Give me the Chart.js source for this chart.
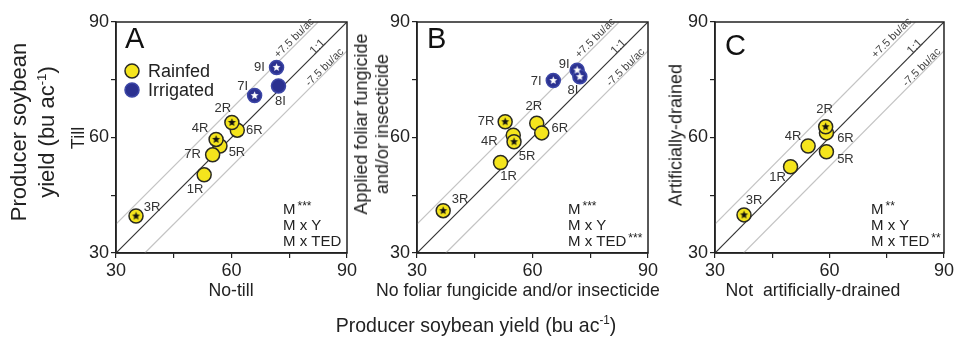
<!DOCTYPE html>
<html><head><meta charset="utf-8">
<script src="https://cdn.jsdelivr.net/npm/chart.js@4.4.1/dist/chart.umd.min.js"></script>
<style>
html,body{margin:0;padding:0;background:#fff;}
#wrap{position:relative;width:956px;height:337px;overflow:hidden;font-family:'Liberation Sans',Arial,sans-serif;color:#222;background:#fff;}
canvas{position:absolute;top:0;}
.t{position:absolute;white-space:nowrap;text-align:center;transform:translate(-50%,-50%);}
.r{transform:translate(-50%,-50%) rotate(-90deg);}
.n{transform:translate(-50%,-50%) scaleX(0.93);}
sup{font-size:60%;vertical-align:0;position:relative;top:-0.6em;}
</style></head><body>
<div id="wrap">
  <canvas id="A" width="367" height="337" style="left:0px"></canvas>
  <canvas id="B" width="298" height="337" style="left:367px"></canvas>
  <canvas id="C" width="291" height="337" style="left:665px"></canvas>
  <div class="t r" style="left:34px;top:132px;font-size:22px;line-height:28px;">Producer soybean<br>yield (bu ac<sup>-1</sup>)</div>
  <div class="t r" style="left:78px;top:138px;font-size:18px;">Till</div>
  <div class="t r" style="left:372px;top:124px;font-size:18px;line-height:21px;">Applied foliar fungicide<br>and/or insecticide</div>
  <div class="t r" style="left:676px;top:135px;font-size:18px;">Artificially-drained</div>
  <div class="t n" style="left:231px;top:290px;font-size:19px;">No-till</div>
  <div class="t n" style="left:518px;top:290px;font-size:19px;">No foliar fungicide and/or insecticide</div>
  <div class="t n" style="left:813px;top:290px;font-size:19px;">Not&nbsp; artificially-drained</div>
  <div class="t n" style="left:476px;top:325px;font-size:21px;">Producer soybean yield (bu ac<sup>-1</sup>)</div>
</div>
<script>
// ---------- data ----------
const TICK_LABELS = [30, 60, 90];
const AXIS_MIN = 30, AXIS_MAX = 90, AXIS_STEP = 15;

const LINE_1TO1  = [[30, 30], [90, 90]];
const LINE_PLUS  = [[30, 37.5], [82.5, 90]];
const LINE_MINUS = [[37.5, 30], [90, 82.5]];

// Panel A: Till vs No-till
const A_rain_labels = ['3R', '1R', '5R', '7R', '4R', '6R', '2R'];
const A_rain_x      = [35.2, 52.9, 57.0, 55.1, 56.0, 61.5, 60.1];
const A_rain_y      = [39.6, 50.3, 57.8, 55.5, 59.5, 61.9, 63.9];
const A_rain_star   = [1, 0, 0, 0, 1, 0, 1];
const A_irr_labels  = ['7I', '8I', '9I'];
const A_irr_x       = [66.0, 72.2, 71.7];
const A_irr_y       = [70.9, 73.4, 78.2];
const A_irr_star    = [1, 0, 1];
const A_effects     = [['M', '***'], ['M x Y', ''], ['M x TED', '']];

// Panel B: fungicide/insecticide
const B_rain_labels = ['3R', '1R', '4R', '5R', '7R', '2R', '6R'];
const B_rain_x      = [36.8, 51.7, 55.0, 55.2, 52.9, 61.1, 62.4];
const B_rain_y      = [41.0, 53.5, 60.6, 58.9, 64.1, 63.7, 61.2];
const B_rain_star   = [1, 0, 0, 1, 1, 0, 0];
const B_irr_labels  = ['7I', '9I', '8I'];
const B_irr_x       = [65.4, 71.6, 72.3];
const B_irr_y       = [74.8, 77.5, 75.8];
const B_irr_star    = [1, 1, 1];
const B_effects     = [['M', '***'], ['M x Y', ''], ['M x TED', '***']];

// Panel C: artificial drainage
const C_rain_labels = ['3R', '1R', '4R', '5R', '6R', '2R'];
const C_rain_x      = [37.6, 49.8, 54.4, 59.2, 59.2, 59.0];
const C_rain_y      = [39.9, 52.4, 57.8, 56.3, 61.2, 62.8];
const C_rain_star   = [1, 0, 0, 0, 0, 1];
const C_effects     = [['M', '**'], ['M x Y', ''], ['M x TED', '**']];

// ---------- layout / style ----------
const FONT = "'Liberation Sans', Arial, sans-serif";
const YELLOW = '#f5e51d', YELLOW_EDGE = '#2a2a22';
const BLUE = '#2b3190', BLUE_EDGE = '#3c46a6';

const LABEL_OFFSETS = {
  A: {'3R':[16,-9],'1R':[-9,15],'7R':[-20,0],'5R':[17,6],'4R':[-16,-11],'2R':[-9,-14],'6R':[17,0],'7I':[-12,-9],'9I':[-17,0],'8I':[2,16]},
  B: {'3R':[17,-11],'1R':[8,14],'7R':[-19,0],'4R':[-24,6],'5R':[13,15],'2R':[-3,-17],'6R':[18,-4],'7I':[-17,1],'9I':[-13,-6],'8I':[-7,14]},
  C: {'3R':[10,-14],'1R':[-13,11],'4R':[-15,-10],'2R':[-1,-17],'6R':[19,6],'5R':[19,8]}
};
const LINE_TEXT = [
  {text:'+7.5 bu/ac', x:76.3, y:85.8, size:11},
  {text:'1:1',        x:82.4, y:83.5, size:12},
  {text:'-7.5 bu/ac', x:84.2, y:78.2, size:11}
];

function starImg(color, r) {
  const s = Math.ceil(r * 2) + 2;
  const c = document.createElement('canvas');
  c.width = c.height = s;
  const g = c.getContext('2d');
  g.fillStyle = color;
  g.beginPath();
  for (let i = 0; i < 10; i++) {
    const a = -Math.PI / 2 + i * Math.PI / 5;
    const rr = i % 2 ? r * 0.45 : r;
    g.lineTo(s / 2 + rr * Math.cos(a), s / 2 + rr * Math.sin(a));
  }
  g.closePath();
  g.fill();
  return c;
}
const STAR_BLACK = starImg('#111', 4.2);
const STAR_WHITE = starImg('#ffffff', 4.2);

const pts = (xs, ys) => xs.map((x, i) => ({x, y: ys[i]}));
const ptsArr = arr => arr.map(p => ({x: p[0], y: p[1]}));
const starred = (xs, ys, flags) => pts(xs, ys).filter((p, i) => flags[i]);

function scaleOpts(axis, size) {
  return {
    type: 'linear', min: AXIS_MIN, max: AXIS_MAX,
    ticks: {
      stepSize: AXIS_STEP, autoSkip: false, maxRotation: 0, color: '#222',
      font: {family: FONT, size: 18}, padding: 2,
      callback: v => TICK_LABELS.includes(v) ? String(v) : ''
    },
    grid: {display: true, drawOnChartArea: false, drawTicks: true, tickLength: 5, color: '#222', lineWidth: 1.2},
    border: {display: true, color: '#222', width: 1.5},
    afterFit: s => { if (axis === 'x') s.height = size; else s.width = size; }
  };
}

const decor = {
  id: 'decor',
  afterDatasetsDraw(chart, args, o) {
    const ctx = chart.ctx, ca = chart.chartArea;
    const xs = chart.scales.x, ys = chart.scales.y;
    ctx.save();
    ctx.strokeStyle = '#222'; ctx.lineWidth = 1.5;
    ctx.strokeRect(ca.left, ca.top, ca.right - ca.left, ca.bottom - ca.top);
    ctx.fillStyle = '#333'; ctx.font = '13px ' + FONT;
    ctx.textAlign = 'center'; ctx.textBaseline = 'middle';
    o.groups.forEach(g => {
      g.labels.forEach((lab, i) => {
        const off = o.offsets[lab] || [0, 0];
        ctx.fillText(lab, xs.getPixelForValue(g.x[i]) + off[0], ys.getPixelForValue(g.y[i]) + off[1]);
      });
    });
    const ang = Math.atan2(ys.getPixelForValue(90) - ys.getPixelForValue(30), xs.getPixelForValue(90) - xs.getPixelForValue(30));
    ctx.fillStyle = '#444';
    LINE_TEXT.forEach(t => {
      ctx.save();
      ctx.translate(xs.getPixelForValue(t.x), ys.getPixelForValue(t.y));
      ctx.rotate(ang);
      ctx.font = t.size + 'px ' + FONT;
      ctx.fillText(t.text, 0, 0);
      ctx.restore();
    });
    ctx.fillStyle = '#111'; ctx.font = '29px ' + FONT;
    ctx.textAlign = 'left'; ctx.textBaseline = 'alphabetic';
    ctx.fillText(o.letter, ca.left + o.letterPos[0], ca.top + o.letterPos[1]);
    const ex = ca.right - o.effectsDx;
    o.effects.forEach((e, i) => {
      const y = ca.bottom - 43 + i * 16;
      ctx.font = '15px ' + FONT; ctx.fillStyle = '#222'; ctx.textBaseline = 'middle';
      ctx.fillText(e[0], ex, y);
      if (e[1]) {
        const w = ctx.measureText(e[0]).width;
        ctx.font = '12px ' + FONT;
        ctx.fillText(e[1], ex + w + 2, y - 3);
      }
    });
    if (o.legend) {
      [[YELLOW, YELLOW_EDGE, 'Rainfed', 49], [BLUE, BLUE_EDGE, 'Irrigated', 68]].forEach(l => {
        ctx.beginPath();
        ctx.arc(ca.left + 16, ca.top + l[3], 7, 0, Math.PI * 2);
        ctx.fillStyle = l[0]; ctx.fill();
        ctx.lineWidth = 1.5; ctx.strokeStyle = l[1]; ctx.stroke();
        ctx.fillStyle = '#222'; ctx.font = '18px ' + FONT; ctx.textBaseline = 'middle';
        ctx.fillText(l[2], ca.left + 32, ca.top + l[3] + 1);
      });
    }
    ctx.restore();
  }
};

function makePanel(id, yWidth, padRight, cfg) {
  const datasets = [
    {data: ptsArr(LINE_MINUS), showLine: true, pointRadius: 0, borderColor: '#c4c4c4', borderWidth: 1.2, order: 20},
    {data: ptsArr(LINE_PLUS),  showLine: true, pointRadius: 0, borderColor: '#c4c4c4', borderWidth: 1.2, order: 20},
    {data: ptsArr(LINE_1TO1),  showLine: true, pointRadius: 0, borderColor: '#333', borderWidth: 1.2, order: 19},
    {data: pts(cfg.rain.x, cfg.rain.y), pointRadius: 7, pointBackgroundColor: YELLOW, pointBorderColor: YELLOW_EDGE, pointBorderWidth: 1.5, order: 10},
    {data: starred(cfg.rain.x, cfg.rain.y, cfg.rain.star), pointStyle: STAR_BLACK, order: 9}
  ];
  if (cfg.irr) {
    datasets.push({data: pts(cfg.irr.x, cfg.irr.y), pointRadius: 7, pointBackgroundColor: BLUE, pointBorderColor: BLUE_EDGE, pointBorderWidth: 1.5, order: 8});
    datasets.push({data: starred(cfg.irr.x, cfg.irr.y, cfg.irr.star), pointStyle: STAR_WHITE, order: 7});
  }
  const groups = [cfg.rain]; if (cfg.irr) groups.push(cfg.irr);
  new Chart(document.getElementById(id), {
    type: 'scatter',
    data: {datasets},
    options: {
      responsive: false, animation: false, events: [],
      layout: {padding: {top: 22, right: padRight, left: 0, bottom: 0}},
      scales: {x: scaleOpts('x', 84), y: scaleOpts('y', yWidth)},
      plugins: {
        legend: {display: false}, tooltip: {enabled: false},
        decor: {groups, offsets: LABEL_OFFSETS[id], letter: cfg.letter, letterPos: cfg.letterPos,
                effects: cfg.effects, effectsDx: cfg.effectsDx, legend: !!cfg.legend}
      }
    },
    plugins: [decor]
  });
}

makePanel('A', 116, 20, {
  letter: 'A', letterPos: [9, 26], effects: A_effects, effectsDx: 64, legend: true,
  rain: {labels: A_rain_labels, x: A_rain_x, y: A_rain_y, star: A_rain_star},
  irr:  {labels: A_irr_labels,  x: A_irr_x,  y: A_irr_y,  star: A_irr_star}
});
makePanel('B', 50, 17, {
  letter: 'B', letterPos: [10, 26], effects: B_effects, effectsDx: 80,
  rain: {labels: B_rain_labels, x: B_rain_x, y: B_rain_y, star: B_rain_star},
  irr:  {labels: B_irr_labels,  x: B_irr_x,  y: B_irr_y,  star: B_irr_star}
});
makePanel('C', 50, 11, {
  letter: 'C', letterPos: [10, 33], effects: C_effects, effectsDx: 73,
  rain: {labels: C_rain_labels, x: C_rain_x, y: C_rain_y, star: C_rain_star}
});
</script>
</body></html>
